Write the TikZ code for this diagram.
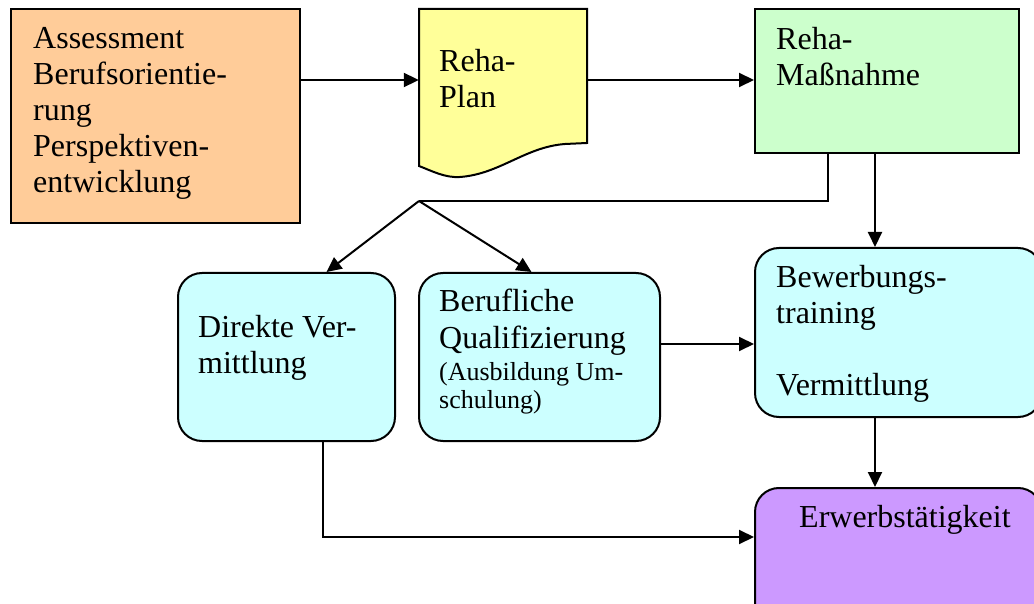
\documentclass[tikz,border=0pt]{standalone}
\usepackage{fontspec}
\setmainfont{Liberation Serif}
\usetikzlibrary{arrows.meta}
\definecolor{cOrange}{HTML}{FFCC99}
\definecolor{cYellow}{HTML}{FFFF99}
\definecolor{cGreen}{HTML}{CCFFCC}
\definecolor{cCyan}{HTML}{CCFFFF}
\definecolor{cPurple}{HTML}{CC99FF}
\tikzset{
  box/.style={draw=black, line width=2pt, inner sep=0pt, minimum width=#1},
  rbox/.style={box=#1, rounded corners=24pt},
  ghost/.style={inner sep=0pt, minimum width=#1},
  txt/.style={anchor=base west, inner sep=0pt, align=left, font=\fontsize{32}{36}\selectfont},
  stxt/.style={anchor=base west, inner sep=0pt, align=left, font=\fontsize{26}{28}\selectfont},
  conn/.style={draw=black, line width=2pt},
  arr/.style={conn, -{Triangle[length=15pt,width=14pt]}},
}
\begin{document}
\begin{tikzpicture}[x=1pt,y=-1pt]
\useasboundingbox (0,0) rectangle (1034,604);
\clip (0,0) rectangle (1034,604);
\fill[white] (0,0) rectangle (1034,604);

% boxes
\node[box=289pt, minimum height=214pt, fill=cOrange] (orange) at (155,116) {};
\path[draw=black, line width=2pt, fill=cYellow]
  (419,9) -- (587,9) -- (587,143) -- (565,144)
  .. controls (525,147) and (500,174) .. (460,177)
  .. controls (445,178) and (432,171) .. (419,166) -- cycle;
\node[ghost=168pt, minimum height=142pt] (plan) at (503,80) {};
\node[box=264pt, minimum height=144pt, fill=cGreen] (green) at (887,81) {};
\node[rbox=217pt, minimum height=168pt, fill=cCyan] (direkte) at (286.5,357) {};
\node[rbox=241pt, minimum height=168pt, fill=cCyan] (beruf) at (539.5,357) {};
\node[rbox=287pt, minimum height=169pt, fill=cCyan] (bew) at (898.5,332.5) {};
\node[rbox=287pt, minimum height=140pt, fill=cPurple] (erw) at (898.5,558) {};

% texts (anchor = baseline of last line)
\node[txt] (t1) at (33,193) {Assessment\\Berufsorientie-\\rung\\Perspektiven-\\entwicklung};
\node[txt] (t2) at (439,108) {Reha-\\Plan};
\node[txt] (t3) at (776,86) {Reha-\\Maßnahme};
\node[txt] (t4) at (198,373) {Direkte Ver-\\mittlung};
\node[txt] (t5) at (439,348) {Berufliche\\Qualifizierung};
\node[stxt] (t6) at (439,408) {(Ausbildung Um-\\schulung)};
\node[txt] (t7) at (776,395) {Bewerbungs-\\training\\\mbox{}\\Vermittlung};
\node[txt] (t8) at (799,527) {Erwerbstätigkeit};

% connectors
\coordinate (cx) at (875,0);
\coordinate (dx) at (828,0);
\coordinate (br) at (419,201);
\draw[arr] (orange.east |- plan.west) -- (plan.west);
\draw[arr] (plan.east) -- (green.west |- plan.east);
\draw[conn] (green.south -| dx) |- (br);
\draw[arr] (br) -- ([xshift=40pt]direkte.north);
\draw[arr] (br) -- ([xshift=-8pt]beruf.north);
\draw[arr] (green.south -| cx) -- (bew.north -| cx);
\draw[arr] (beruf.east |- 0,344) -- (bew.west |- 0,344);
\draw[arr] (bew.south -| cx) -- (erw.north -| cx);
\draw[arr] (direkte.south -| 323,0) |- (erw.west |- 0,537);
\end{tikzpicture}
\end{document}
